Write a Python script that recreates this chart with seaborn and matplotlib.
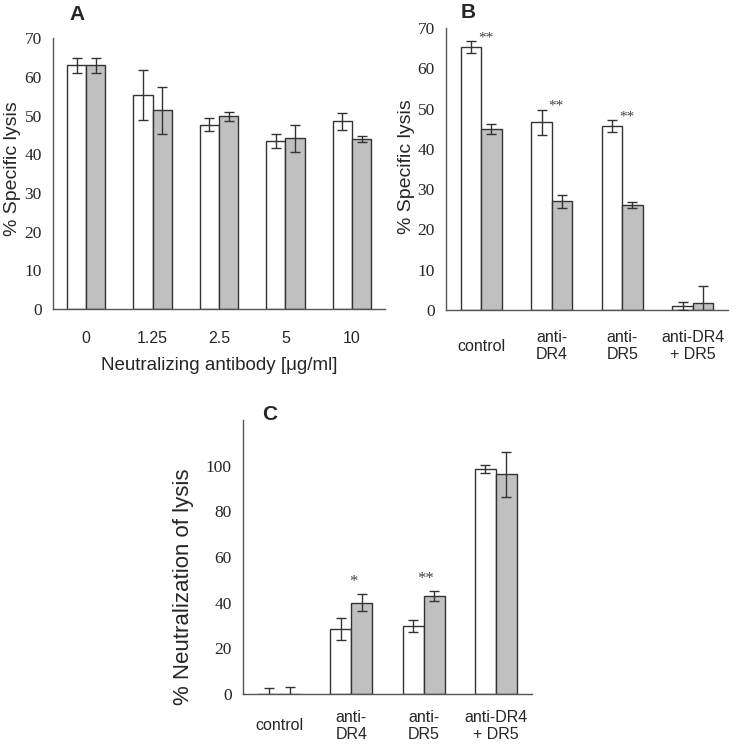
import numpy as np
import pandas as pd
import seaborn as sns
import matplotlib.pyplot as plt

# Panel A: lysis vs neutralizing antibody dose
doses = ['0', '1.25', '2.5', '5', '10']
a_white = [63.0, 55.3, 47.7, 43.4, 48.5]
a_white_err = [2.0, 6.5, 1.7, 1.8, 2.3]
a_gray = [63.0, 51.4, 49.8, 44.1, 43.9]
a_gray_err = [2.0, 6.1, 1.1, 3.4, 0.7]

# Panel B: specific lysis per treatment
treatments = ['control', 'anti-\nDR4', 'anti-\nDR5', 'anti-DR4\n+ DR5']
b_white = [65.2, 46.6, 45.7, 1.1]
b_white_err = [1.5, 3.1, 1.4, 1.0]
b_gray = [44.9, 27.0, 26.0, 1.8]
b_gray_err = [1.2, 1.6, 0.8, 4.2]
b_sig = ['**', '**', '**', '']

# Panel C: neutralization of lysis
c_white = [0.0, 28.4, 29.7, 98.5]
c_white_err = [2.5, 4.9, 2.5, 1.6]
c_gray = [0.0, 40.0, 42.8, 96.2]
c_gray_err = [3.0, 3.7, 2.1, 9.8]
c_sig = ['', '*', '**', '']

GRAY = '#c0c0c0'
EDGE = '#333333'
SPINE = '#555555'
SERIF = 'Liberation Serif'
SANS = 'Liberation Sans'

sns.set_style('white')
plt.rcParams['font.family'] = [SANS, 'DejaVu Sans']


def draw_panel(ax, cats, white, white_err, gray, gray_err, ymax, ystep, label_pad):
    df = pd.DataFrame({
        'cat': list(cats) * 2,
        'grp': ['w'] * len(cats) + ['g'] * len(cats),
        'val': list(white) + list(gray),
    })
    sns.barplot(data=df, x='cat', y='val', hue='grp', order=cats, hue_order=['w', 'g'],
                palette=['white', GRAY], width=0.58, edgecolor=EDGE, linewidth=1,
                errorbar=None, legend=False, ax=ax, zorder=2)
    for cont, err in zip(ax.containers, [white_err, gray_err]):
        xs = [p.get_x() + p.get_width() / 2 for p in cont.patches]
        ys = [p.get_height() for p in cont.patches]
        ax.errorbar(xs, ys, yerr=err, fmt='none', ecolor=EDGE, elinewidth=1,
                    capsize=3.5, capthick=1, zorder=3)
    n = len(cats)
    ax.set_xlim(-0.5, n - 0.5)
    ax.set_ylim(0, ymax)
    ax.set_yticks(np.arange(0, ymax + 0.1, ystep))
    ax.set_xticks(range(n))
    ax.set_xticklabels(cats, fontsize=11.5, linespacing=1.15)
    for t in ax.get_xticklabels():
        t.set_va('center')
    ax.set_xticks(np.arange(-0.5, n, 1.0), minor=True)
    ax.tick_params(axis='x', which='major', length=0, pad=label_pad)
    ax.tick_params(axis='x', which='minor', length=5, width=1, color=SPINE, direction='out')
    ax.tick_params(axis='y', length=5, width=1, color=SPINE, direction='out', labelsize=12.5, pad=3)
    for t in ax.get_yticklabels():
        t.set_fontfamily(SERIF)
    sns.despine(ax=ax)
    for s in ['left', 'bottom']:
        ax.spines[s].set_color(SPINE)
        ax.spines[s].set_linewidth(1)
    ax.set_xlabel('')
    ax.set_ylabel('')


fig = plt.figure(figsize=(7.43, 7.50), dpi=100)

axA = fig.add_axes([0.0713, 0.588, 0.447, 0.361])
draw_panel(axA, doses, a_white, a_white_err, a_gray, a_gray_err, 70, 10, 21)
axA.set_xlabel('Neutralizing antibody [\u03bcg/ml]', fontsize=13.5, labelpad=8)
axA.set_ylabel('% Specific lysis', fontsize=14)
axA.yaxis.set_label_coords(-0.095, 0.52)

axB = fig.add_axes([0.6003, 0.5867, 0.3795, 0.376])
draw_panel(axB, treatments, b_white, b_white_err, b_gray, b_gray_err, 70, 10, 26)
axB.set_ylabel('% Specific lysis', fontsize=14)
axB.yaxis.set_label_coords(-0.11, 0.507)
for i, s in enumerate(b_sig):
    if s:
        top = max(b_white[i] + b_white_err[i], b_gray[i] + b_gray_err[i])
        axB.text(i + 0.06, top + 0.9, s, ha='center', va='center', fontsize=11,
                 family=SERIF, color='#444444', clip_on=True)

axC = fig.add_axes([0.327, 0.0747, 0.389, 0.3653])
draw_panel(axC, treatments, c_white, c_white_err, c_gray, c_gray_err, 120, 20, 23)
axC.set_yticks(np.arange(0, 101, 20))
axC.set_ylabel('% Neutralization of lysis', fontsize=16)
axC.yaxis.set_label_coords(-0.17, 0.39)
for i, s in enumerate(c_sig):
    if s:
        top = max(c_white[i] + c_white_err[i], c_gray[i] + c_gray_err[i])
        axC.text(i + 0.03, top + 5.5, s, ha='center', va='center', fontsize=12,
                 family=SERIF, color='#444444')

fig.text(77 / 743, 1 - 14 / 750, 'A', fontsize=15, fontweight='bold', ha='center', va='center')
fig.text(468 / 743, 1 - 12 / 750, 'B', fontsize=15, fontweight='bold', ha='center', va='center')
fig.text(270 / 743, 1 - 414 / 750, 'C', fontsize=15, fontweight='bold', ha='center', va='center')

fig.savefig('out.png', dpi=100)
